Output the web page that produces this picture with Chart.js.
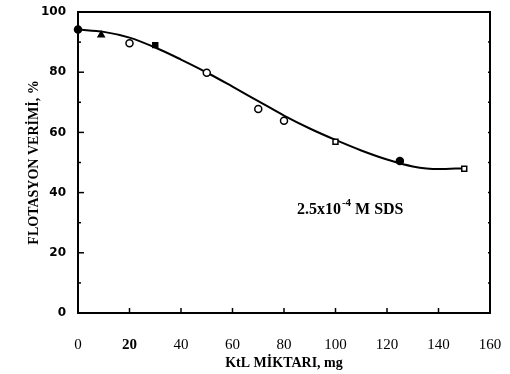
<!DOCTYPE html>
<html>
<head>
<meta charset="utf-8">
<script src="https://cdn.jsdelivr.net/npm/chart.js@4"></script>
<style>
    body { margin: 0; background: #fff; }
    #chart { display: block; }
</style>
</head>
<body>
<canvas id="chart" width="510" height="374"></canvas>
<script>
// Measured points (KtL amount, mg -> flotation recovery, %)
const ktlAmounts = [0, 9, 20, 30, 50, 70, 80, 100, 125, 150];
const recovery = [94.2, 92.4, 89.6, 89.0, 79.8, 67.8, 63.9, 56.9, 50.5, 47.9];
const markerStyles = ['circle', 'triangle', 'circle', 'rect', 'circle', 'circle', 'circle', 'rect', 'circle', 'rect'];
const markerFills = ['#000', '#000', '#fff', '#000', '#fff', '#fff', '#fff', '#fff', '#000', '#fff'];

// Fitted curve
const curveX = [0, 10, 20, 30, 40, 50, 60, 70, 80, 90, 100, 110, 120, 130, 140, 150];
const curveY = [94.2, 93.4, 91.5, 88.2, 84.2, 79.9, 75.2, 70.4, 65.6, 61.3, 57.5, 54.0, 51.0, 48.7, 47.8, 48.1];

// Axis ticks
const xTicks = [0, 20, 40, 60, 80, 100, 120, 140, 160];
const yTicks = [0, 20, 40, 60, 80, 100];

const ctx = document.getElementById('chart');

// Box frame, inward tick marks and the SDS note
const framePlugin = {
    id: 'frame',
    beforeDatasetsDraw(chart) {
        const { ctx, chartArea: a, scales: { x, y } } = chart;
        ctx.save();
        ctx.strokeStyle = '#000';
        ctx.lineWidth = 2;
        ctx.strokeRect(a.left, a.top, a.right - a.left, a.bottom - a.top);

        ctx.lineWidth = 1.5;
        // y ticks on left (every 10, longer on labelled ones)
        for (let v = 10; v < 100; v += 10) {
            const py = y.getPixelForValue(v);
            const len = yTicks.includes(v) ? 6 : 3;
            ctx.beginPath();
            ctx.moveTo(a.left, py);
            ctx.lineTo(a.left + len, py);
            ctx.stroke();
            ctx.beginPath();
            ctx.moveTo(a.right, py);
            ctx.lineTo(a.right - 2, py);
            ctx.stroke();
        }
        // x ticks on bottom
        xTicks.forEach(v => {
            if (v === 0 || v === 160) return;
            const px = x.getPixelForValue(v);
            ctx.beginPath();
            ctx.moveTo(px, a.bottom);
            ctx.lineTo(px, a.bottom - 5);
            ctx.stroke();
        });
        ctx.restore();
    },
    afterDraw(chart) {
        const { ctx, scales: { x, y } } = chart;
        ctx.save();
        ctx.fillStyle = '#000';
        ctx.textBaseline = 'middle';
        let px = x.getPixelForValue(85);
        const py = y.getPixelForValue(34.2);
        ctx.font = 'bold 16px "Liberation Serif"';
        ctx.fillText('2.5x10', px, py);
        px += ctx.measureText('2.5x10').width + 1;
        ctx.font = 'bold 11px "Liberation Serif"';
        ctx.fillText('-4', px, py - 7);
        px += ctx.measureText('-4').width;
        ctx.font = 'bold 16px "Liberation Serif"';
        ctx.fillText(' M SDS', px, py);
        ctx.restore();
    }
};

new Chart(ctx, {
    type: 'scatter',
    data: {
        datasets: [
            {
                label: 'Fit',
                type: 'line',
                data: curveX.map((v, i) => ({ x: v, y: curveY[i] })),
                borderColor: '#000',
                borderWidth: 2,
                pointRadius: 0,
                tension: 0.4,
                cubicInterpolationMode: 'monotone',
                fill: false,
                clip: false,
                order: 2
            },
            {
                label: 'Measured',
                data: ktlAmounts.map((v, i) => ({ x: v, y: recovery[i] })),
                pointStyle: markerStyles,
                backgroundColor: markerFills,
                borderColor: '#000',
                borderWidth: 1.5,
                pointRadius: 3.5,
                clip: false,
                order: 1
            }
        ]
    },
    options: {
        responsive: false,
        devicePixelRatio: 1,
        animation: false,
        layout: {
            padding: { left: 0, right: 20, top: 12, bottom: 0 }
        },
        plugins: {
            legend: { display: false },
            tooltip: { enabled: false }
        },
        scales: {
            x: {
                type: 'linear',
                min: 0,
                max: 160,
                afterFit: scale => {
                    scale.height = 61;
                    scale.paddingLeft = 0;
                    scale.paddingRight = 0;
                },
                afterBuildTicks: scale => { scale.ticks = xTicks.map(v => ({ value: v })); },
                grid: { display: false },
                border: { display: false },
                ticks: {
                    color: '#000',
                    padding: 15,
                    maxRotation: 0,
                    font: c => ({
                        family: '"Liberation Serif"',
                        size: 15,
                        weight: c.tick && c.tick.value === 20 ? 'bold' : 'normal'
                    })
                },
                title: {
                    display: true,
                    text: 'KtL MİKTARI, mg',
                    color: '#000',
                    font: { family: '"Liberation Serif"', size: 14, weight: 'bold' },
                    padding: { top: 0, bottom: 2 }
                }
            },
            y: {
                type: 'linear',
                min: 0,
                max: 100,
                afterFit: scale => {
                    scale.width = 78;
                    scale.paddingTop = 0;
                    scale.paddingBottom = 0;
                },
                afterBuildTicks: scale => { scale.ticks = yTicks.map(v => ({ value: v })); },
                grid: { display: false },
                border: { display: false },
                ticks: {
                    color: '#000',
                    padding: 4,
                    font: { family: '"DejaVu Sans"', size: 12, weight: 'bold' }
                },
                title: {
                    display: true,
                    text: 'FLOTASYON VERİMİ, %',
                    color: '#000',
                    font: { family: '"Liberation Serif"', size: 14, weight: 'bold' },
                    padding: { top: 26, bottom: 0 }
                }
            }
        }
    },
    plugins: [framePlugin]
});
</script>
</body>
</html>
